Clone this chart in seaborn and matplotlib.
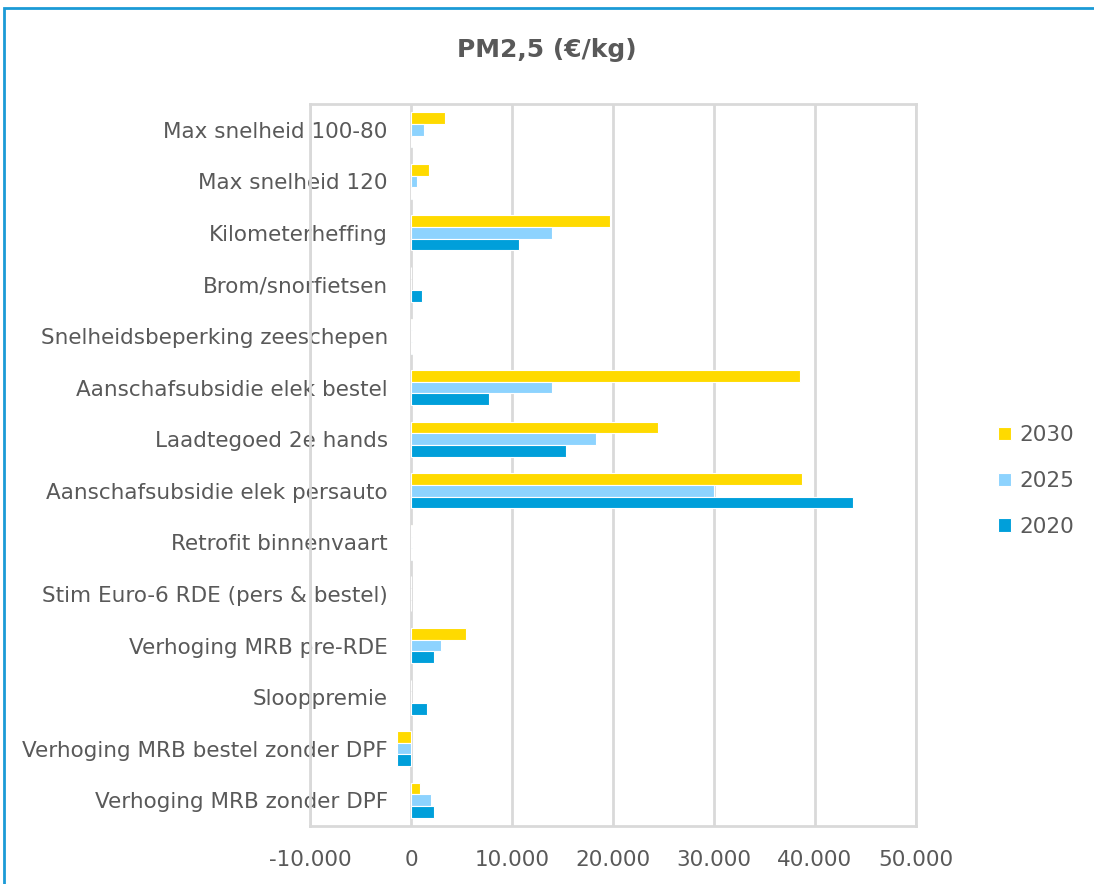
import numpy as np
import pandas as pd
import matplotlib
matplotlib.use("Agg")
import matplotlib.pyplot as plt
from matplotlib.patches import Rectangle
import seaborn as sns

categories = [
    "Max snelheid 100-80",
    "Max snelheid 120",
    "Kilometerheffing",
    "Brom/snorfietsen",
    "Snelheidsbeperking zeeschepen",
    "Aanschafsubsidie elek bestel",
    "Laadtegoed 2e hands",
    "Aanschafsubsidie elek persauto",
    "Retrofit binnenvaart",
    "Stim Euro-6 RDE (pers & bestel)",
    "Verhoging MRB pre-RDE",
    "Slooppremie",
    "Verhoging MRB bestel zonder DPF",
    "Verhoging MRB zonder DPF",
]

years = ["2030", "2025", "2020"]
values_2030 = [3350, 1780, 19700, 0, 100, 38500, 24500, 38700, 100, 0, 5450, 0, -1400, 850]
values_2025 = [1290, 600, 14000, 0, 80, 14000, 18300, 30000, 80, 0, 2950, 0, -1400, 2000]
values_2020 = [100, 60, 10700, 1100, 60, 7700, 15300, 43800, 80, 0, 2250, 1550, -1400, 2250]

colors = ["#FFDA00", "#8DD3FE", "#009FDA"]
text_color = "#595959"
grid_color = "#D9D9D9"

df = pd.DataFrame({
    "maatregel": categories * 3,
    "jaar": [y for y in years for _ in categories],
    "waarde": values_2030 + values_2025 + values_2020,
})

sns.set_theme(style="white")
plt.rcParams["font.family"] = ["DejaVu Sans"]

fig = plt.figure(figsize=(10.94, 8.84), dpi=100)
ax = fig.add_axes([310 / 1094, 1 - 826 / 884, (916 - 310) / 1094, (826 - 104) / 884])

sns.barplot(
    data=df, y="maatregel", x="waarde", hue="jaar", hue_order=years,
    order=categories, palette=colors, saturation=1, orient="h", width=0.68,
    edgecolor="white", linewidth=0.8, ax=ax, zorder=2,
)

ax.set_xlim(-10000, 50000)
ticks = np.arange(-10000, 50001, 10000)
ax.set_xticks(ticks)
ax.set_xticklabels([f"{t:,.0f}".replace(",", ".") for t in ticks])
ax.set_xlabel("")
ax.set_ylabel("")
ax.set_axisbelow(True)
ax.grid(axis="x", color=grid_color, linewidth=2)
ax.grid(axis="y", visible=False)
for sp in ax.spines.values():
    sp.set_color(grid_color)
    sp.set_linewidth(2)

ax.tick_params(axis="x", length=0, pad=17, labelsize=15.5, labelcolor=text_color)
ax.tick_params(axis="y", length=0, pad=-56, labelsize=15.5, labelcolor=text_color)

leg = ax.legend(
    loc="center left", bbox_to_anchor=(998 / 1094, 1 - 481 / 884),
    bbox_transform=fig.transFigure, frameon=False, fontsize=15.5,
    handlelength=0.6, handleheight=0.6, handletextpad=0.4,
    labelspacing=1.2, borderaxespad=0, borderpad=0,
)
for t in leg.get_texts():
    t.set_color(text_color)

fig.text(0.5, 1 - 50 / 884, "PM2,5 (€/kg)", ha="center", va="center",
         fontsize=18, fontweight="bold", color=text_color)

fig.patches.append(Rectangle((4 / 1094, -0.02), 1.1, 1 - 8 / 884 + 0.02,
                             transform=fig.transFigure, fill=False,
                             edgecolor="#1B9AD6", linewidth=2, zorder=10))

fig.savefig("out.png", dpi=100)
